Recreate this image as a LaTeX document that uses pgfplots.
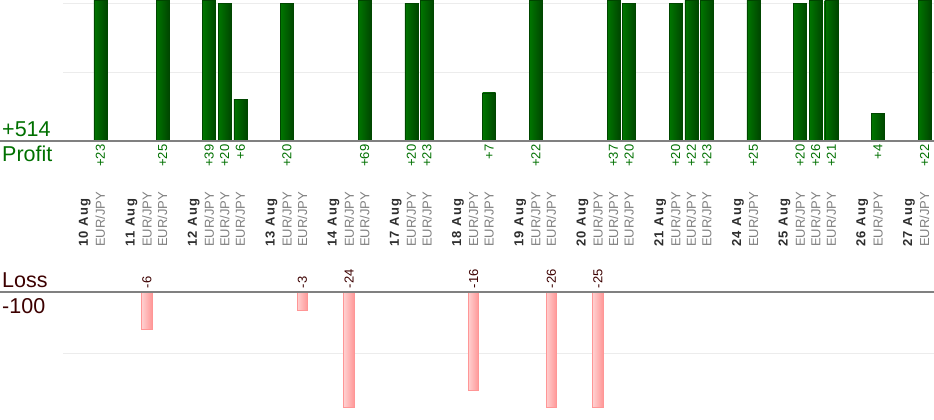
\documentclass[border=0pt]{standalone}
\usepackage{pgfplots}
\pgfplotsset{compat=1.18}
\usepackage{pgfplotstable}
\usepackage{fontspec}
\setmainfont{Liberation Sans}
\definecolor{pgreen}{RGB}{0,112,0}
\definecolor{barL}{RGB}{0,118,0}
\definecolor{barR}{RGB}{0,70,0}
\definecolor{lossL}{RGB}{255,208,208}
\definecolor{lossR}{RGB}{255,150,150}
\definecolor{lossE}{RGB}{255,150,150}
\definecolor{maroon}{RGB}{60,0,0}
\definecolor{axgray}{RGB}{128,128,128}
\definecolor{gridc}{RGB}{236,236,236}
\definecolor{tgray}{RGB}{128,128,128}
\definecolor{dgray}{RGB}{45,45,45}
\protected\def\D#1{{\color{dgray}\bfseries\addfontfeature{LetterSpace=10}#1}}
\protected\def\E{{\color{tgray}EUR/JPY}}
\pgfplotsset{
  pbar/.style={ybar, bar width=13pt, left color=barL, right color=barR, draw=barR, line width=0.4pt, restrict y to domain*={0:20.48}},
  lbar/.style={ybar, bar width=10.5pt, left color=lossL, right color=lossR, draw=lossE, line width=0.8pt, restrict y to domain*={-18.64:0}},
}

\pgfplotstableread{
s v lab
1 23 +23
5 25 +25
8 39 +39
9 20 +20
10 6 +6
13 20 +20
18 69 +69
21 20 +20
22 23 +23
26 7 +7
29 22 +22
34 37 +37
35 20 +20
38 20 +20
39 22 +22
40 23 +23
43 25 +25
46 20 +20
47 26 +26
48 21 +21
51 4 +4
54 22 +22
}\profit

\pgfplotstableread{
s v lab
4 -6 -6
14 -3 -3
17 -24 -24
25 -16 -16
30 -26 -26
33 -25 -25
}\loss

\begin{document}
\begin{tikzpicture}[x=1pt,y=1pt]
\path[use as bounding box] (0,0) rectangle (934,420);
\begin{axis}[
  at={(63pt,279pt)}, anchor=south west,
  width=871pt, height=141pt, scale only axis,
  xmin=-1.40, xmax=54.61, ymin=0, ymax=20.48,
  clip=false,
  axis line style={draw=none},
  tick style={draw=none},
  ytick={10,20}, yticklabels={}, ymajorgrids,
  grid style={color=gridc, line width=0.9pt},
  xtick={0,1,3,4,5,7,8,9,10,12,13,14,16,17,18,20,21,22,24,25,26,28,29,30,32,33,34,35,37,38,39,40,42,43,45,46,47,48,50,51,53,54},
  xticklabels={\D{10 Aug},\E,\D{11 Aug},\E,\E,\D{12 Aug},\E,\E,\E,\D{13 Aug},\E,\E,\D{14 Aug},\E,\E,\D{17 Aug},\E,\E,\D{18 Aug},\E,\E,\D{19 Aug},\E,\E,\D{20 Aug},\E,\E,\E,\D{21 Aug},\E,\E,\E,\D{24 Aug},\E,\D{25 Aug},\E,\E,\E,\D{26 Aug},\E,\D{27 Aug},\E},
  xticklabel style={rotate=90, anchor=west, inner sep=0pt, font=\fontsize{13}{15}\selectfont},
  xticklabel shift=106pt,
]
\addplot[pbar] coordinates {(1,23)};
\addplot[pbar] coordinates {(5,25)};
\addplot[pbar] coordinates {(8,39)};
\addplot[pbar] coordinates {(9,20)};
\addplot[pbar] coordinates {(10,6)};
\addplot[pbar] coordinates {(13,20)};
\addplot[pbar] coordinates {(18,69)};
\addplot[pbar] coordinates {(21,20)};
\addplot[pbar] coordinates {(22,23)};
\addplot[pbar] coordinates {(26,7)};
\addplot[pbar] coordinates {(29,22)};
\addplot[pbar] coordinates {(34,37)};
\addplot[pbar] coordinates {(35,20)};
\addplot[pbar] coordinates {(38,20)};
\addplot[pbar] coordinates {(39,22)};
\addplot[pbar] coordinates {(40,23)};
\addplot[pbar] coordinates {(43,25)};
\addplot[pbar] coordinates {(46,20)};
\addplot[pbar] coordinates {(47,26)};
\addplot[pbar] coordinates {(48,21)};
\addplot[pbar] coordinates {(51,4)};
\addplot[pbar] coordinates {(54,22)};
\addplot[draw=none, mark=none, nodes near coords, point meta=explicit symbolic,
  nodes near coords style={rotate=90, anchor=east, inner sep=3.5pt, text=pgreen, font=\fontsize{13}{15}\selectfont}]
  table[x=s, y expr=0, meta=lab] {\profit};
\end{axis}
\begin{axis}[
  at={(63pt,13pt)}, anchor=south west,
  width=871pt, height=115pt, scale only axis,
  xmin=-1.40, xmax=54.61, ymin=-18.64, ymax=0,
  clip=false,
  axis line style={draw=none},
  tick style={draw=none},
  xtick=\empty,
  ytick={-10}, yticklabels={}, ymajorgrids,
  grid style={color=gridc, line width=0.9pt},
]
\addplot[lbar] coordinates {(4,-6)};
\addplot[lbar] coordinates {(14,-3)};
\addplot[lbar] coordinates {(17,-24)};
\addplot[lbar] coordinates {(25,-16)};
\addplot[lbar] coordinates {(30,-26)};
\addplot[lbar] coordinates {(33,-25)};
\addplot[draw=none, mark=none, nodes near coords, point meta=explicit symbolic,
  nodes near coords style={rotate=90, anchor=west, inner sep=3.5pt, text=maroon, font=\fontsize{13}{15}\selectfont}]
  table[x=s, y expr=0, meta=lab] {\loss};
\end{axis}
\draw[axgray, line width=1.2pt] (0,279) -- (934,279);
\draw[axgray, line width=1.2pt] (0,128) -- (934,128);
\node[anchor=base west, inner sep=0pt, text=pgreen, font=\fontsize{21.5}{24}\selectfont] at (2,283) {+514};
\node[anchor=base west, inner sep=0pt, text=pgreen, font=\fontsize{21.5}{24}\selectfont] at (2,258) {Profit};
\node[anchor=base west, inner sep=0pt, text=maroon, font=\fontsize{21.5}{24}\selectfont] at (2,132) {Loss};
\node[anchor=base west, inner sep=0pt, text=maroon, font=\fontsize{21.5}{24}\selectfont] at (2,106) {-100};
\end{tikzpicture}
\end{document}
